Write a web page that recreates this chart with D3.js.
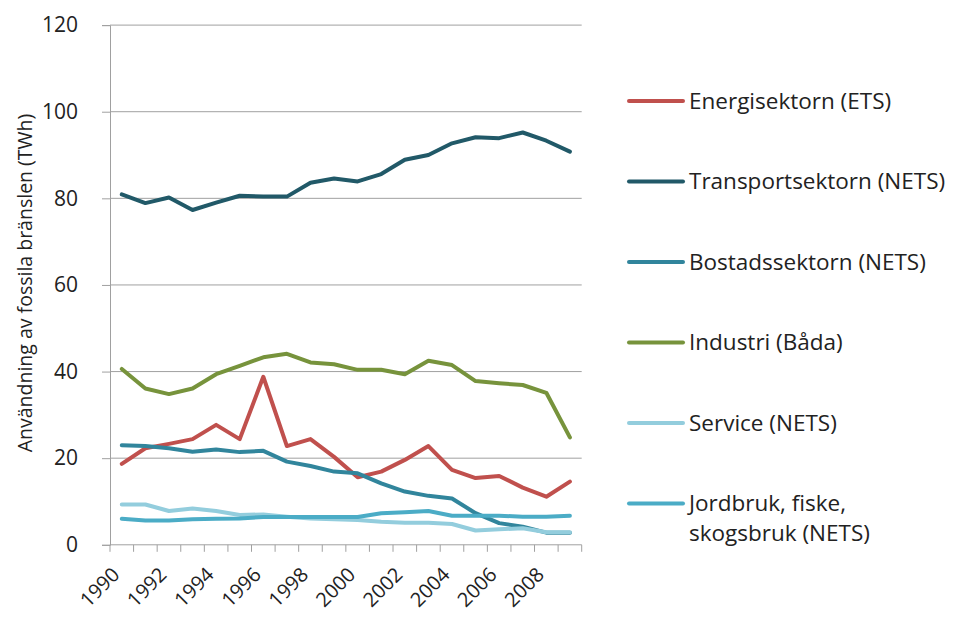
<!DOCTYPE html>
<html lang="sv">
<head>
<meta charset="UTF-8">
<title>Fossila bränslen</title>
<style>
  body { margin: 0; background: #fff; }
  text { font-family: "Open Sans", "Liberation Sans", sans-serif; fill: #222; }
</style>
</head>
<body>
<div id="chart"></div>
<script src="https://d3js.org/d3.v7.min.js"></script>
<script>
// data (TWh)
const years = d3.range(1990, 2010);
const energi    = [18.7, 22.3, 23.3, 24.4, 27.7, 24.4, 38.8, 22.8, 24.4, 20.3, 15.6, 16.9, 19.6, 22.8, 17.3, 15.4, 15.9, 13.2, 11.1, 14.6];
const transport = [80.9, 78.9, 80.2, 77.3, 79.0, 80.6, 80.4, 80.4, 83.6, 84.6, 83.9, 85.6, 88.9, 90.0, 92.7, 94.1, 93.9, 95.2, 93.3, 90.8];
const bostad    = [23.0, 22.8, 22.3, 21.5, 22.0, 21.4, 21.7, 19.2, 18.2, 16.9, 16.5, 14.2, 12.3, 11.3, 10.7, 7.3, 5.0, 4.2, 2.8, 2.8];
const industri  = [40.6, 36.1, 34.8, 36.1, 39.4, 41.3, 43.3, 44.1, 42.1, 41.7, 40.4, 40.4, 39.4, 42.5, 41.5, 37.8, 37.3, 36.9, 35.1, 24.8];
const service   = [9.3, 9.3, 7.8, 8.4, 7.8, 6.9, 7.0, 6.5, 6.1, 5.9, 5.7, 5.3, 5.1, 5.1, 4.8, 3.3, 3.6, 3.8, 2.9, 2.9];
const jordbruk  = [6.0, 5.6, 5.6, 5.9, 6.0, 6.1, 6.4, 6.4, 6.4, 6.4, 6.4, 7.3, 7.5, 7.8, 6.7, 6.7, 6.7, 6.5, 6.5, 6.7];
const yTicks = [0, 20, 40, 60, 80, 100, 120];
const xLabels = years.filter((y, i) => i % 2 === 0);

const series = [
  { name: ["Energisektorn (ETS)"], values: energi, color: "#C0504D" },
  { name: ["Transportsektorn (NETS)"], values: transport, color: "#215968" },
  { name: ["Bostadssektorn (NETS)"], values: bostad, color: "#31859C" },
  { name: ["Industri (Båda)"], values: industri, color: "#77933C" },
  { name: ["Service (NETS)"], values: service, color: "#93CDDD" },
  { name: ["Jordbruk, fiske,", "skogsbruk (NETS)"], values: jordbruk, color: "#4BACC6" }
];

const width = 956, height = 619;
const plotLeft = 110, plotRight = 581.7, plotTop = 25.1, plotBottom = 544.8;

const svg = d3.select("#chart").append("svg")
  .attr("width", width).attr("height", height);

const x = d3.scaleBand().domain(years).range([plotLeft, plotRight]);
const y = d3.scaleLinear().domain([0, 120]).range([plotBottom, plotTop]);

// gridlines
svg.append("g")
  .selectAll("line")
  .data(yTicks.filter(d => d > 0))
  .enter().append("line")
  .attr("x1", plotLeft).attr("x2", plotRight)
  .attr("y1", d => y(d)).attr("y2", d => y(d))
  .attr("stroke", "#A0A0A0").attr("stroke-width", 1);

// y axis
const yAxis = svg.append("g")
  .attr("transform", "translate(" + plotLeft + ",0)")
  .call(d3.axisLeft(y).tickValues(yTicks).tickSize(8).tickPadding(24));
yAxis.selectAll("text").style("font-size", "21px").attr("fill", "#222");
yAxis.selectAll("path, line").attr("stroke", "#A0A0A0");

// x axis, ticks on band edges
const xAxis = svg.append("g")
  .attr("transform", "translate(0," + plotBottom + ")");
xAxis.append("line")
  .attr("x1", plotLeft).attr("x2", plotRight)
  .attr("stroke", "#A0A0A0");
xAxis.selectAll(".edge")
  .data(years.concat([2010]))
  .enter().append("line")
  .attr("class", "edge")
  .attr("x1", d => d === 2010 ? plotRight : x(d))
  .attr("x2", d => d === 2010 ? plotRight : x(d))
  .attr("y1", 0).attr("y2", 7)
  .attr("stroke", "#A0A0A0");
xAxis.selectAll(".lbl")
  .data(xLabels)
  .enter().append("text")
  .attr("class", "lbl")
  .attr("text-anchor", "end")
  .attr("transform", d => "translate(" + (x(d) + x.bandwidth() / 2 - 1) + ",31) rotate(-45)")
  .style("font-size", "20px")
  .text(d => d);

// y axis title
svg.append("text")
  .attr("transform", "translate(32,283) rotate(-90)")
  .attr("text-anchor", "middle")
  .style("font-size", "19.5px")
  .text("Användning av fossila bränslen  (TWh)");

// lines
const line = d3.line()
  .x((d, i) => x(years[i]) + x.bandwidth() / 2)
  .y(d => y(d));

svg.append("g")
  .selectAll("path")
  .data(series)
  .enter().append("path")
  .attr("d", d => line(d.values))
  .attr("fill", "none")
  .attr("stroke", d => d.color)
  .attr("stroke-width", 4)
  .attr("stroke-linejoin", "round")
  .attr("stroke-linecap", "round");

// legend
const legend = svg.append("g").selectAll("g")
  .data(series)
  .enter().append("g")
  .attr("transform", (d, i) => "translate(629," + (101 + i * 80.5) + ")");
legend.append("line")
  .attr("x1", 0).attr("x2", 54)
  .attr("stroke", d => d.color)
  .attr("stroke-width", 4)
  .attr("stroke-linecap", "round");
legend.append("text")
  .style("font-size", "22.5px")
  .selectAll("tspan")
  .data(d => d.name)
  .enter().append("tspan")
  .attr("x", 60)
  .attr("dy", (d, i) => i === 0 ? "0.35em" : "1.33em")
  .text(d => d);
</script>
</body>
</html>
